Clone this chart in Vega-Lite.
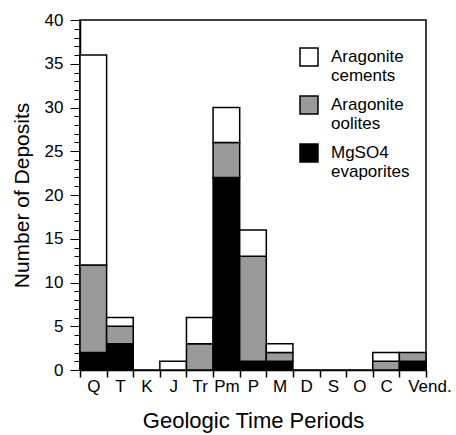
{
  "$schema": "https://vega.github.io/schema/vega-lite/v6.json",
  "width": 346,
  "height": 350,
  "autosize": {"type": "none"},
  "padding": {"left": 80, "top": 20, "right": 30, "bottom": 65},
  "background": "white",
  "config": {
    "font": "Liberation Sans",
    "view": {"stroke": "black", "strokeWidth": 1.5}
  },
  "data": {
    "values": [
      {"period": "Q", "type": "MgSO4 evaporites", "count": 2},
      {"period": "Q", "type": "Aragonite oolites", "count": 10},
      {"period": "Q", "type": "Aragonite cements", "count": 24},
      {"period": "T", "type": "MgSO4 evaporites", "count": 3},
      {"period": "T", "type": "Aragonite oolites", "count": 2},
      {"period": "T", "type": "Aragonite cements", "count": 1},
      {"period": "J", "type": "Aragonite cements", "count": 1},
      {"period": "Tr", "type": "Aragonite oolites", "count": 3},
      {"period": "Tr", "type": "Aragonite cements", "count": 3},
      {"period": "Pm", "type": "MgSO4 evaporites", "count": 22},
      {"period": "Pm", "type": "Aragonite oolites", "count": 4},
      {"period": "Pm", "type": "Aragonite cements", "count": 4},
      {"period": "P", "type": "MgSO4 evaporites", "count": 1},
      {"period": "P", "type": "Aragonite oolites", "count": 12},
      {"period": "P", "type": "Aragonite cements", "count": 3},
      {"period": "M", "type": "MgSO4 evaporites", "count": 1},
      {"period": "M", "type": "Aragonite oolites", "count": 1},
      {"period": "M", "type": "Aragonite cements", "count": 1},
      {"period": "C", "type": "Aragonite oolites", "count": 1},
      {"period": "C", "type": "Aragonite cements", "count": 1},
      {"period": "Vend.", "type": "MgSO4 evaporites", "count": 1},
      {"period": "Vend.", "type": "Aragonite oolites", "count": 1}
    ]
  },
  "mark": {"type": "bar", "stroke": "black", "strokeWidth": 1.5},
  "encoding": {
    "x": {
      "field": "period",
      "type": "nominal",
      "sort": ["Q", "T", "K", "J", "Tr", "Pm", "P", "M", "D", "S", "O", "C", "Vend."],
      "scale": {
        "domain": ["Q", "T", "K", "J", "Tr", "Pm", "P", "M", "D", "S", "O", "C", "Vend."],
        "paddingInner": 0,
        "paddingOuter": 0
      },
      "axis": {
        "title": "Geologic Time  Periods",
        "titleFontSize": 22,
        "titleFontWeight": "normal",
        "titleColor": "black",
        "titlePadding": 16,
        "labelAngle": 0,
        "labelFontSize": 17,
        "labelColor": "black",
        "labelPadding": 1,
        "labelOverlap": false,
        "labelAlign": {"condition": {"test": "datum.value === 'Vend.'", "value": "left"}, "value": "center"},
        "labelOffset": {"condition": {"test": "datum.value === 'Vend.'", "value": -5}, "value": 0},
        "tickBand": "extent",
        "tickSize": 7,
        "tickColor": "black",
        "tickWidth": 1.5,
        "domainColor": "black",
        "domainWidth": 1.5
      }
    },
    "y": {
      "field": "count",
      "type": "quantitative",
      "stack": "zero",
      "scale": {"domain": [0, 40], "nice": false},
      "axis": {
        "title": "Number of Deposits",
        "titleFontSize": 21,
        "titleFontWeight": "normal",
        "titleColor": "black",
        "titlePadding": 12,
        "values": [0,1,2,3,4,5,6,7,8,9,10,11,12,13,14,15,16,17,18,19,20,21,22,23,24,25,26,27,28,29,30,31,32,33,34,35,36,37,38,39,40],
        "labelExpr": "datum.value % 5 === 0 ? datum.label : ''",
        "labelFontSize": 17,
        "labelColor": "black",
        "labelPadding": 7,
        "grid": false,
        "tickSize": {"condition": {"test": "datum.value % 5 === 0", "value": 10}, "value": 6},
        "tickColor": "black",
        "tickWidth": 1,
        "domainColor": "black",
        "domainWidth": 1.5
      }
    },
    "fill": {
      "field": "type",
      "type": "nominal",
      "scale": {
        "domain": ["Aragonite cements", "Aragonite oolites", "MgSO4 evaporites"],
        "range": ["white", "#9a9a9a", "black"]
      },
      "legend": {
        "orient": "none",
        "legendX": 219,
        "legendY": 27,
        "title": null,
        "symbolType": "square",
        "symbolSize": 324,
        "symbolStrokeColor": "black",
        "symbolStrokeWidth": 1.5,
        "labelFontSize": 17,
        "labelColor": "black",
        "labelLimit": 0,
        "labelOffset": 12,
        "rowPadding": 9,
        "labelExpr": "split(datum.label, ' ')"
      }
    },
    "order": {"field": "type", "sort": "descending"}
  }
}
